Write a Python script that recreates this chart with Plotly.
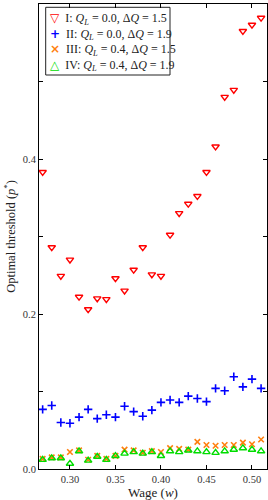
import plotly.graph_objects as go

wage = [0.27, 0.28, 0.29, 0.30, 0.31, 0.32, 0.33, 0.34, 0.35, 0.36, 0.37, 0.38, 0.39,
        0.40, 0.41, 0.42, 0.43, 0.44, 0.45, 0.46, 0.47, 0.48, 0.49, 0.50, 0.51]

series_I = [0.383, 0.286, 0.249, 0.270, 0.222, 0.206, 0.220, 0.219, 0.246, 0.230, 0.257, 0.286, 0.251,
            0.249, 0.302, 0.330, 0.342, 0.352, 0.383, 0.416, 0.480, 0.489, 0.565, 0.573, 0.582]
series_II = [0.077, 0.082, 0.060, 0.059, 0.067, 0.077, 0.065, 0.070, 0.067, 0.081, 0.074, 0.068, 0.076,
             0.086, 0.089, 0.086, 0.094, 0.091, 0.087, 0.104, 0.101, 0.119, 0.106, 0.116, 0.104]
series_III = [0.013, 0.015, 0.015, 0.022, 0.024, 0.012, 0.017, 0.013, 0.017, 0.025, 0.024, 0.021, 0.023,
              0.022, 0.027, 0.026, 0.025, 0.035, 0.031, 0.030, 0.031, 0.031, 0.034, 0.032, 0.038]
series_IV = [0.012, 0.014, 0.014, 0.007, 0.023, 0.011, 0.016, 0.012, 0.017, 0.020, 0.022, 0.020, 0.022,
             0.017, 0.023, 0.022, 0.024, 0.023, 0.022, 0.021, 0.023, 0.025, 0.027, 0.025, 0.023]

x_ticks = [0.30, 0.35, 0.40, 0.45, 0.50]
x_ticklabels = ["0.30", "0.35", "0.40", "0.45", "0.50"]
y_ticks = [0.0, 0.2, 0.4, 0.6]
y_ticklabels = ["0.0", "0.2", "0.4", "0.6"]

names = ["I: <i>Q<sub>L</sub></i> = 0.0, Δ<i>Q</i> = 1.5",
         "II: <i>Q<sub>L</sub></i> = 0.0, Δ<i>Q</i> = 1.9",
         "III: <i>Q<sub>L</sub></i> = 0.4, Δ<i>Q</i> = 1.5",
         "IV: <i>Q<sub>L</sub></i> = 0.4, Δ<i>Q</i> = 1.9"]
colors = ["#ff0000", "#0000ff", "#ff7f0e", "#00dd00"]
glyphs = ["▽", "+", "×", "△"]

FONT = "Liberation Serif, Times New Roman, serif"

fig = go.Figure()
fig.add_trace(go.Scatter(x=wage, y=series_I, mode="markers", name=names[0], showlegend=False,
                         marker=dict(symbol="triangle-down-open", size=6.5, color=colors[0],
                                     line=dict(width=1.4, color=colors[0]))))
fig.add_trace(go.Scatter(x=wage, y=series_II, mode="markers", name=names[1], showlegend=False,
                         marker=dict(symbol="cross-thin-open", size=6, color=colors[1],
                                     line=dict(width=1.6, color=colors[1]))))
fig.add_trace(go.Scatter(x=wage, y=series_III, mode="markers", name=names[2], showlegend=False,
                         marker=dict(symbol="x-thin-open", size=5.5, color=colors[2],
                                     line=dict(width=1.6, color=colors[2]))))
fig.add_trace(go.Scatter(x=wage, y=series_IV, mode="markers", name=names[3], showlegend=False,
                         marker=dict(symbol="triangle-up-open", size=6.5, color=colors[3],
                                     line=dict(width=1.4, color=colors[3]))))

# Legend frame, drawn on an invisible overlay axis pair spanning the plot area (0..1 both ways)
box_x0, box_x1, box_y0, box_y1 = 0.0294, 0.5746, 0.8473, 0.9929
fig.add_trace(go.Scatter(x=[box_x0, box_x1, box_x1, box_x0, box_x0],
                         y=[box_y0, box_y0, box_y1, box_y1, box_y0],
                         mode="lines", fill="toself", fillcolor="white",
                         line=dict(color="#222222", width=1), hoverinfo="skip",
                         showlegend=False, xaxis="x2", yaxis="y2"))

axis_common = dict(showline=True, linecolor="black", linewidth=1, mirror="ticks",
                   ticks="inside", ticklen=4, tickcolor="black", showgrid=False,
                   zeroline=False, tickfont=dict(family=FONT, size=10.5, color="#333"))

xaxis = dict(range=[0.266, 0.5165], tickvals=x_ticks, ticktext=x_ticklabels,
             title=dict(text="Wage (<i>w</i>)", font=dict(family=FONT, size=13, color="#222"),
                        standoff=3),
             **axis_common)
yaxis = dict(range=[0, 0.6], tickvals=y_ticks, ticktext=y_ticklabels,
             minor=dict(tickvals=[0.1, 0.3, 0.5], ticks="inside", ticklen=4, tickcolor="black"),
             title=dict(text="Optimal threshold (<i>p</i><sup>*</sup>)",
                        font=dict(family=FONT, size=12.5, color="#222"), standoff=4),
             **axis_common)

# Legend entries as one annotation (rows ~16 px apart as in the reference)
rows = []
for g, c, n in zip(glyphs, colors, names):
    rows.append(f"<span style='color:{c};font-family:DejaVu Sans;font-weight:bold'>{g}</span>"
                f"\u00a0\u00a0{n}")
legend_text = "<br>".join(rows)

fig.add_annotation(xref="paper", yref="paper", x=box_x0, y=box_y1, xanchor="left", yanchor="top",
                   text=legend_text, showarrow=False, align="left", borderpad=3,
                   font=dict(family=FONT, size=12, color="#222"))

fig.update_layout(width=268, height=500, margin=dict(l=39, r=1, t=4, b=31),
                  plot_bgcolor="white", paper_bgcolor="white", showlegend=False,
                  font=dict(family=FONT, size=11, color="#222"),
                  xaxis=xaxis, yaxis=yaxis,
                  xaxis2=dict(overlaying="x", range=[0, 1], visible=False, anchor="y2"),
                  yaxis2=dict(overlaying="y", range=[0, 1], visible=False, anchor="x2"))

fig.write_html("out.html")
